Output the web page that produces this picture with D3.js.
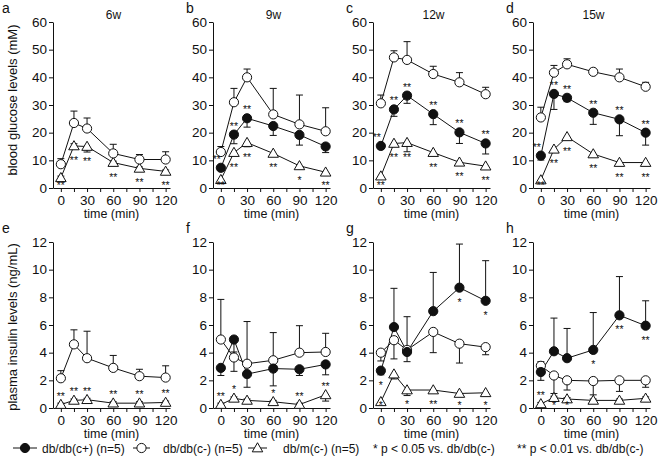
<!DOCTYPE html>
<html><head><meta charset="utf-8">
<script src="https://cdn.jsdelivr.net/npm/d3@7"></script>
<style>body{margin:0;background:#fff}svg{display:block}text{font-family:"Liberation Sans",Arial,sans-serif;fill:#111}</style>
</head><body><svg id="c" width="658" height="456"></svg>
<script>
const times = [0, 15, 30, 60, 90, 120];
const weeks = ['6w', '9w', '12w', '15w'];
const topLetters = ['a', 'b', 'c', 'd'];
const botLetters = ['e', 'f', 'g', 'h'];
const gluTicks = [0, 10, 20, 30, 40, 50, 60];
const insTicks = [0, 2, 4, 6, 8, 10, 12];
const timeTicks = [0, 15, 30, 45, 60, 75, 90, 105, 120];
const timeLabels = [0, 30, 60, 90, 120];

// blood glucose (mM): db/db(c+), db/db(c-), db/m(c-); signed error bars (+ up, - down)
const gluPos = [null,
  [7.3, 19.3, 25.2, 22.4, 19.2, 15],
  [15.2, 28.4, 33.4, 26.7, 20.1, 16.1],
  [11.7, 34, 32.6, 27.2, 24.8, 20]];
const gluPosErr = [null,
  [-1, -3.3, -3.2, -3.4, -3.7, -2.2],
  [-1, -2.5, -2.8, -3.8, -4, -3.8],
  [-1.6, -5.6, -1.4, -4.2, -5.9, -4.5]];
const gluNeg = [
  [8.6, 23.5, 21.5, 12.5, 10.3, 10.3],
  [13, 31, 40, 26.6, 23, 20.5],
  [30.6, 47.2, 46.3, 41.2, 38.2, 33.9],
  [25.5, 41.7, 44.7, 42, 40, 36.6]];
const gluNegErr = [
  [2, 4.3, 3.8, 3.3, 1.8, 2.8],
  [2, 5, 3, 9.4, 10.6, 8.5],
  [3, 2.4, 6.6, 2.8, 3.5, 2.5],
  [3.7, 2.6, 2, 1, 3, 1.6]];
const gluM = [
  [3.7, 15.2, 15, 9.2, 7.1, 6],
  [3, 12.8, 16.4, 12.5, 8, 5.7],
  [4.3, 16.1, 16.4, 12.8, 9.3, 7.9],
  [2.9, 14, 18.5, 12.3, 9.2, 9.2]];
const gluMErr = [
  [0.6, 0.8, -2, 0.5, 0.5, 0.5],
  [-0.5, -1, -1.5, -0.8, -0.5, -0.5],
  [-0.5, -1, -3.3, -0.8, -0.8, -0.8],
  [-0.5, -1, -1, -0.8, -1, -0.8]];

// plasma insulin (ng/mL)
const insPos = [null,
  [2.9, 4.95, 2.45, 2.85, 2.8, 3.15],
  [2.7, 5.85, 4.05, 7.0, 8.7, 7.75],
  [2.6, 4.1, 3.6, 4.2, 6.7, 5.95]];
const insPosErr = [null,
  [-0.55, -2.3, -0.95, -1.25, -0.45, -0.75],
  [-0.3, 2.8, -0.7, 2.8, 3.15, 2.9],
  [-0.6, 2.4, 2.15, 2.7, 2.8, 1.8]];
const insNeg = [
  [2.15, 4.6, 3.6, 2.9, 2.3, 2.2],
  [4.95, 3.65, 3.2, 3.45, 4.0, 4.05],
  [4.0, 4.9, 4.2, 5.5, 4.65, 4.4],
  [3.05, 2.35, 2.0, 1.95, 2.0, 2.0]];
const insNegErr = [
  [0.55, 1.05, 1.95, 0.9, 0.5, 0.85],
  [2.9, 0.4, 3.05, 2.0, 1.95, 1.35],
  [-0.6, -1.35, 2.4, -1.5, -1.4, -0.55],
  [0.3, -1.3, -0.7, -1.0, -0.8, -0.5]];
const insM = [
  [0.25, 0.55, 0.6, 0.35, 0.35, 0.4],
  [0.25, 0.7, 0.55, 0.45, 0.25, 0.95],
  [0.45, 2.45, 1.3, 1.3, 1.05, 1.1],
  [0.3, 0.75, 0.65, 0.55, 0.55, 0.7]];
const insMErr = [
  [0.1, 0.1, 0.1, 0.1, 0.1, 0.1],
  [0.1, 0.1, 0.1, 0.1, 0.1, -0.45],
  [-0.2, -0.35, -0.4, -0.1, -0.1, -0.1],
  [0.1, 0.1, 0.1, 0.1, 0.1, 0.1]];

// significance marks: [series, time index, label, side]
const gluStars = [
  [['m',0,'**','b'],['m',1,'**','b'],['m',2,'**','b'],['m',3,'**','b'],['m',4,'**','b'],['m',5,'**','b']],
  [['p',0,'**','al'],['m',0,'**','b'],['p',1,'**','a'],['m',1,'**','b'],['p',2,'**','a'],['m',2,'**','b'],['m',3,'**','b'],['m',4,'*','b'],['m',5,'**','b']],
  [['p',0,'**','al'],['m',0,'**','b'],['p',1,'**','a'],['m',1,'**','b'],['p',2,'**','a'],['m',2,'**','b'],['p',3,'**','a'],['m',3,'**','b'],['p',4,'**','a'],['m',4,'**','b'],['p',5,'**','a'],['m',5,'**','b']],
  [['p',0,'**','al'],['m',0,'**','b'],['p',1,'**','a'],['m',1,'**','b'],['p',2,'**','a'],['m',2,'**','b'],['p',3,'**','a'],['m',3,'**','b'],['p',4,'**','a'],['m',4,'**','b'],['p',5,'**','a'],['m',5,'**','b']]];
const insStars = [
  [['m',0,'**','a'],['m',1,'**','a'],['m',2,'**','a'],['m',3,'**','a'],['m',4,'**','a'],['m',5,'**','a']],
  [['m',0,'**','a'],['m',1,'*','a'],['m',3,'*','a'],['m',4,'**','a'],['m',5,'**','a']],
  [['p',0,'*','b'],['p',4,'*','b'],['p',5,'*','b'],['m',0,'*','b'],['m',2,'*','b'],['m',3,'**','b'],['m',4,'*','b'],['m',5,'*','b']],
  [['p',3,'*','b'],['p',4,'**','b'],['p',5,'**','b'],['m',0,'**','a'],['m',1,'*','b'],['m',2,'*','b']]];

const legendLabels = ['db/db(c+) (n=5)', 'db/db(c-) (n=5)', 'db/m(c-) (n=5)'];
const noteLabels = ['* p < 0.05 vs. db/db(c-)', '** p < 0.01 vs. db/db(c-)'];

const svg = d3.select('#c');
const FONT = '"Liberation Sans",Arial,sans-serif';
const panelLeft = [53, 213, 373, 533];
const plotW = 117;
const rows = [
  {top: 22, bot: 188, dom: [0, 60], ticks: gluTicks, letters: topLetters, titles: true,
   pos: gluPos, posE: gluPosErr, neg: gluNeg, negE: gluNegErr, m: gluM, mE: gluMErr, stars: gluStars,
   ylabel: 'blood glucose levels (mM)', ylabY: 100},
  {top: 242, bot: 408, dom: [0, 12], ticks: insTicks, letters: botLetters, titles: false,
   pos: insPos, posE: insPosErr, neg: insNeg, negE: insNegErr, m: insM, mE: insMErr, stars: insStars,
   ylabel: 'plasma insulin levels (ng/mL)', ylabY: 327}];

const tri = d3.symbol().type(d3.symbolTriangle).size(48);

function drawMarker(g, kind, cx, cy) {
  if (kind === 'm') {
    g.append('path').attr('d', tri()).attr('transform', `translate(${cx},${cy + 0.8})`)
      .attr('fill', '#fff').attr('stroke', '#111').attr('stroke-width', 1);
  } else {
    g.append('circle').attr('cx', cx).attr('cy', cy).attr('r', 4.6)
      .attr('fill', kind === 'p' ? '#111' : '#fff').attr('stroke', '#111').attr('stroke-width', 1);
  }
}

rows.forEach((row, ri) => {
  svg.append('text').attr('transform', `translate(17,${row.ylabY}) rotate(-90)`)
    .attr('text-anchor', 'middle').attr('font-size', 13).text(row.ylabel);

  panelLeft.forEach((x0, pi) => {
    const x = d3.scaleLinear().domain([-9, 125]).range([x0, x0 + plotW]);
    const y = d3.scaleLinear().domain(row.dom).range([row.bot, row.top]);
    const g = svg.append('g');

    const ya = g.append('g').attr('transform', `translate(${x0},0)`)
      .call(d3.axisLeft(y).tickValues(row.ticks).tickSize(4).tickSizeOuter(0).tickPadding(2));
    const xa = g.append('g').attr('transform', `translate(0,${row.bot})`)
      .call(d3.axisBottom(x).tickValues(timeTicks).tickFormat(d => timeLabels.includes(d) ? d : '')
        .tickSize(4).tickSizeOuter(0).tickPadding(3));
    [ya, xa].forEach(a => {
      a.attr('font-size', 13.5).attr('font-family', FONT);
      a.selectAll('text').attr('font-size', 13.5).style('font-size', '13.5px').style('font-family', FONT).attr('fill', '#111');
      a.selectAll('path,line').attr('stroke', '#111');
    });

    g.append('text').attr('x', (x0 + x0 + plotW) / 2).attr('y', row.bot + 30)
      .attr('text-anchor', 'middle').attr('font-size', 12.5).text('time (min)');

    const letterX = pi === 0 ? 2 : x0 - 27;
    g.append('text').attr('x', letterX).attr('y', row.top - 9).attr('font-size', 14).text(row.letters[pi]);
    if (row.titles) {
      g.append('text').attr('x', x0 + plotW / 2 + 2).attr('y', 19).attr('text-anchor', 'middle')
        .attr('font-size', 12).text(weeks[pi]);
    }

    const series = [];
    series.push({k: 'm', v: row.m[pi], e: row.mE[pi]});
    series.push({k: 'n', v: row.neg[pi], e: row.negE[pi]});
    if (row.pos[pi]) series.push({k: 'p', v: row.pos[pi], e: row.posE[pi]});

    const line = d3.line().x((d, i) => x(times[i])).y(d => y(d));
    series.forEach(s => {
      g.append('path').attr('d', line(s.v)).attr('fill', 'none').attr('stroke', '#111').attr('stroke-width', 1);
    });
    series.forEach(s => {
      s.v.forEach((v, i) => {
        const cx = x(times[i]);
        const y1 = y(v), y2 = y(v + s.e[i]);
        g.append('line').attr('x1', cx).attr('x2', cx).attr('y1', y1).attr('y2', y2).attr('stroke', '#111');
        g.append('line').attr('x1', cx - 3.5).attr('x2', cx + 3.5).attr('y1', y2).attr('y2', y2).attr('stroke', '#111');
      });
    });
    series.forEach(s => {
      s.v.forEach((v, i) => drawMarker(g, s.k, x(times[i]), y(v)));
    });

    const lookup = {m: row.m[pi], n: row.neg[pi], p: row.pos[pi]};
    row.stars[pi].forEach(([k, i, lab, side]) => {
      const cx = x(times[i]) + (side === 'al' ? -4 : 0);
      const cy = y(lookup[k][i]);
      const by = side === 'b' ? Math.min(cy + 18, row.bot + 1) : cy - 5;
      g.append('text').attr('x', cx).attr('y', by).attr('text-anchor', 'middle')
        .attr('font-size', 10.5).attr('fill', '#111').text(lab);
    });
  });
});

// legend
const ly = 448;
const legendX = [13, 133, 248];
const legendW = [24, 17, 19];
const legendTextX = [42, 163, 283];
const kinds = ['p', 'n', 'm'];
legendX.forEach((lx, i) => {
  svg.append('line').attr('x1', lx).attr('x2', lx + legendW[i]).attr('y1', ly).attr('y2', ly).attr('stroke', '#111');
  drawMarker(svg, kinds[i], lx + legendW[i] / 2, ly);
  svg.append('text').attr('x', legendTextX[i]).attr('y', ly + 4.5).attr('font-size', 12).text(legendLabels[i]);
});
svg.append('text').attr('x', 373).attr('y', ly + 4.5).attr('font-size', 12).text(noteLabels[0]);
svg.append('text').attr('x', 517).attr('y', ly + 4.5).attr('font-size', 12).text(noteLabels[1]);
</script></body></html>
